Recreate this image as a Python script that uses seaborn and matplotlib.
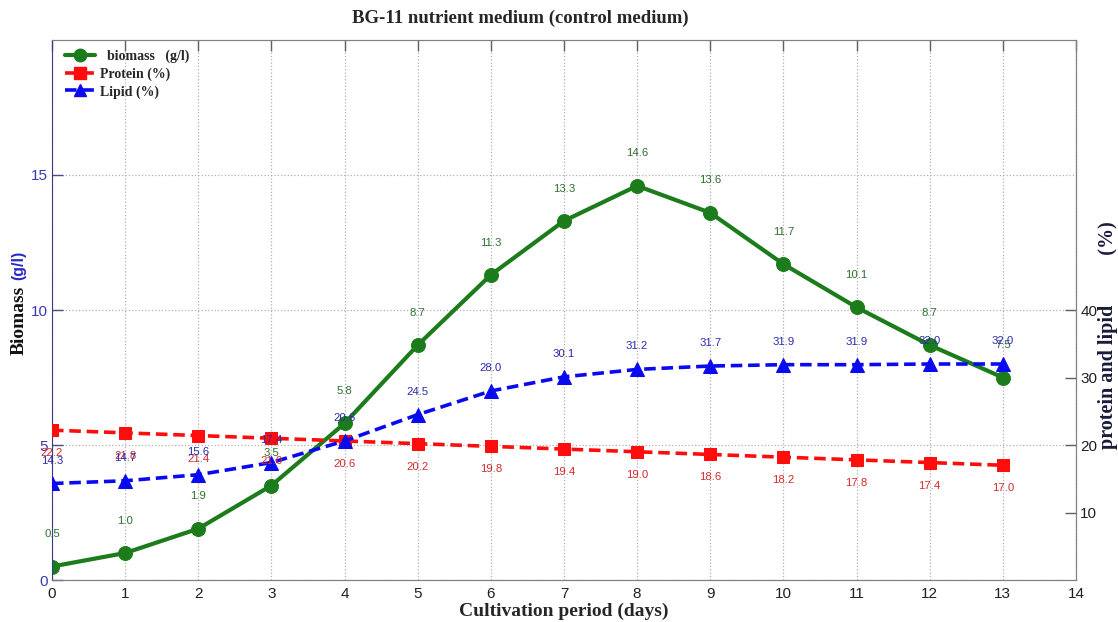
import matplotlib
matplotlib.use("Agg")
import matplotlib.pyplot as plt
from matplotlib.lines import Line2D
import seaborn as sns
import pandas as pd

# Cultivation data in BG-11 control medium
days = list(range(14))
biomass = [0.5, 1.0, 1.9, 3.5, 5.8, 8.7, 11.3, 13.3, 14.6, 13.6, 11.7, 10.1, 8.7, 7.5]
protein = [22.2, 21.8, 21.4, 21.0, 20.6, 20.2, 19.8, 19.4, 19.0, 18.6, 18.2, 17.8, 17.4, 17.0]
lipid = [14.3, 14.7, 15.6, 17.4, 20.6, 24.5, 28.0, 30.1, 31.2, 31.7, 31.9, 31.9, 32.0, 32.0]
x_ticks = list(range(15))
left_ticks = [0, 5, 10, 15]
right_ticks = [10, 20, 30, 40]

df = pd.DataFrame({"day": days, "biomass": biomass, "protein": protein, "lipid": lipid})

sns.set_style("white")
plt.rcParams["font.family"] = ["Liberation Sans", "DejaVu Sans"]

GREEN = "#1c7c1c"
RED = "#ff0d0d"
BLUE = "#0a0af0"
SERIF = ["Liberation Serif", "DejaVu Serif"]

fig = plt.figure(figsize=(11.18, 6.22), dpi=100)
ax = fig.add_axes([0.0465, 0.0675, 0.9159, 0.8682])
ax2 = ax.twinx()

sns.lineplot(data=df, x="day", y="biomass", ax=ax, color=GREEN, lw=3,
             marker="o", markersize=10, markeredgecolor=GREEN)
sns.lineplot(data=df, x="day", y="protein", ax=ax2, color=RED, lw=2.6,
             linestyle=(0, (3.2, 1.6)), marker="s", markersize=9, markeredgecolor=RED)
sns.lineplot(data=df, x="day", y="lipid", ax=ax2, color=BLUE, lw=2.6,
             linestyle=(0, (3.2, 1.6)), marker="^", markersize=10, markeredgecolor=BLUE)

# value annotations
for d, v in zip(days, biomass):
    ax.text(d, v + 1.2, f"{v:.1f}", color="#2f6f2f", fontsize=8.2, ha="center", va="center")
for d, v in zip(days, protein):
    ax2.text(d, v - 3.4, f"{v:.1f}", color="#d42a2a", fontsize=8.2, ha="center", va="center")
for d, v in zip(days, lipid):
    ax2.text(d, v + 3.4, f"{v:.1f}", color="#2a2ab0", fontsize=8.2, ha="center", va="center")

ax.set_xlim(0, 14)
ax.set_ylim(0, 20)
ax2.set_ylim(0, 80)
ax.set_xticks(x_ticks)
ax.set_yticks(left_ticks)
ax2.set_yticks(right_ticks)

ax.set_xlabel("Cultivation period (days)", fontsize=14, fontweight="bold", family=SERIF, labelpad=1)
ax.set_ylabel("")
ax2.set_ylabel("")

# grid
ax.xaxis.grid(True, linestyle=":", color="#b0b0b0", lw=0.9)
ax.yaxis.grid(True, linestyle=":", color="#b0b0b0", lw=0.9)
ax2.grid(False)

# ticks and spines
ax.tick_params(axis="x", direction="in", length=8, width=1, colors="#606060",
               labelcolor="#202020", labelsize=11, top=True, pad=5)
ax.tick_params(axis="y", direction="in", length=8, width=1, colors="#4a4a90",
               labelcolor="#3a3ab0", labelsize=11, pad=3)
ax2.tick_params(axis="y", direction="in", length=8, width=1, colors="#606060",
                labelcolor="#202020", labelsize=11, pad=3)
for name in ["top", "bottom", "right"]:
    ax.spines[name].set_color("#808080")
    ax2.spines[name].set_color("#808080")
ax.spines["left"].set_color("#3a3a8a")
ax2.spines["left"].set_visible(False)

fig.suptitle("BG-11 nutrient medium (control medium)", fontsize=13.5, fontweight="bold",
             family=SERIF, x=0.465, y=0.985)

# left axis label in two colours
fig.text(0.017, 0.4855, "Biomass", rotation=90, ha="center", va="center",
         fontsize=14, fontweight="bold", family=SERIF, color="#111111")
fig.text(0.017, 0.574, "(g/l)", rotation=90, ha="center", va="center",
         fontsize=11.5, fontweight="bold", family=["Liberation Sans", "DejaVu Sans"], color="#2a2ac0")
# right axis label
fig.text(0.991, 0.461, "protein and lipid          (%)", rotation=90, ha="center", va="center",
         fontsize=14.5, fontweight="bold", family=SERIF, color="#1a1a3a")

handles = [
    Line2D([], [], color=GREEN, lw=3, marker="o", markersize=9),
    Line2D([], [], color=RED, lw=2.6, linestyle=(0, (3.2, 1.6)), marker="s", markersize=8),
    Line2D([], [], color=BLUE, lw=2.6, linestyle=(0, (3.2, 1.6)), marker="^", markersize=9),
]
ax.legend(handles, ["  biomass   (g/l)", "Protein (%)", "Lipid (%)"], loc="upper left",
          frameon=False, prop={"family": SERIF, "weight": "bold", "size": 10},
          handlelength=2.2, handletextpad=0.3, labelspacing=0.3,
          borderaxespad=0.3, bbox_to_anchor=(0.003, 1.0))

fig.savefig("out.png", dpi=100)
